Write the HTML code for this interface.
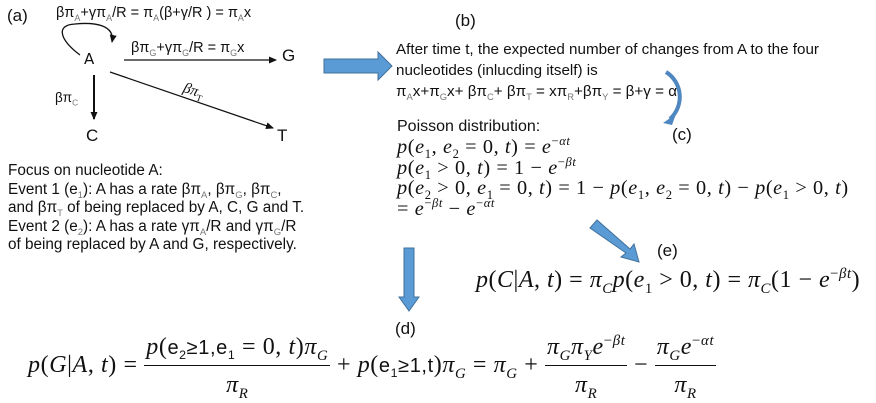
<!DOCTYPE html>
<html><head><meta charset="utf-8"><style>
body{margin:0;width:876px;height:403px;background:#fff;position:relative;overflow:hidden;font-family:"Liberation Sans",sans-serif;color:#111}
.a{position:absolute;white-space:nowrap}
.s{font-size:13.5px}
.m{font-family:"Liberation Serif",serif}
.m i{font-style:italic}
sub,sup{line-height:0;font-size:0.62em}
.s sub{color:#777}
.f{display:inline-block;vertical-align:middle;text-align:center}
.f .n{display:block;border-bottom:1px solid #111;padding:0 2px 4px}
.f .d{display:block;padding-top:6px}
</style></head><body>
<svg width="876" height="403" style="position:absolute;left:0;top:0">
<defs><marker id="ah" markerWidth="8" markerHeight="8" refX="7" refY="4" orient="auto" markerUnits="userSpaceOnUse"><path d="M0,0.5 L8,4 L0,7.5z" fill="#111"/></marker></defs>
<path d="M80,55 C60,40 55,25 75,24 C95,22 115,25 112,42" fill="none" stroke="#111" stroke-width="1.3" marker-end="url(#ah)"/>
<line x1="124" y1="60" x2="276" y2="60" stroke="#111" stroke-width="1.3" marker-end="url(#ah)"/>
<line x1="94" y1="75" x2="94" y2="119" stroke="#111" stroke-width="2" marker-end="url(#ah)"/>
<line x1="110" y1="72" x2="273" y2="128" stroke="#111" stroke-width="1.2" marker-end="url(#ah)"/>
<path d="M324,59 H378 V52 L392,66 L378,80 V73 H324 Z" fill="#5b9bd5" stroke="#41719c"/>
<path d="M666,72 C682,82 685,105 670,119" fill="none" stroke="#4f87c0" stroke-width="4"/>
<path d="M663,123 L676,114 L672,125 Z" fill="#4f87c0"/>
<path d="M590,228 L597,220 L630,249 L634,244 L639,262 L621,257 L626,253 Z" fill="#5b9bd5" stroke="#41719c"/>
<path d="M404,248 H414 V297 H419 L409,311 L399,297 H404 Z" fill="#5b9bd5" stroke="#41719c"/>
</svg>
<div class="a" style="left:7px;top:6px;font-size:17px">(a)</div>
<div class="a s" style="left:56px;top:5px;font-size:14.5px">βπ<sub>A</sub>+γπ<sub>A</sub>/R = π<sub>A</sub>(β+γ/R ) = π<sub>A</sub>x</div>
<div class="a" style="left:84px;top:50px;font-size:15px;font-family:'DejaVu Sans',sans-serif">A</div>
<div class="a s" style="left:131px;top:40px;font-size:14.5px">βπ<sub>G</sub>+γπ<sub>G</sub>/R = π<sub>G</sub>x</div>
<div class="a" style="left:282px;top:46px;font-size:17px">G</div>
<div class="a s" style="left:55px;top:90px">βπ<sub>C</sub></div>
<div class="a" style="left:86px;top:126px;font-size:17px">C</div>
<div class="a m" style="left:183px;top:83px;font-size:15px;transform:rotate(18deg)"><i>βπ</i><sub>T</sub></div>
<div class="a" style="left:277px;top:126px;font-size:17px">T</div>
<div class="a s" style="left:8px;top:162px;line-height:18.5px;font-size:15.3px">Focus on nucleotide A:<br>Event 1 (e<sub>1</sub>): A has a rate βπ<sub>A</sub>, βπ<sub>G</sub>, βπ<sub>C</sub>,<br>and βπ<sub>T</sub> of being replaced by A, C, G and T.<br>Event 2 (e<sub>2</sub>): A has a rate γπ<sub>A</sub>/R and γπ<sub>G</sub>/R<br>of being replaced by A and G, respectively.</div>
<div class="a" style="left:455px;top:11px;font-size:17px">(b)</div>
<div class="a s" style="left:396px;top:39px;line-height:21px;font-size:15.2px">After time t, the expected number of changes from A to the four<br>nucleotides (inlucding itself) is<br>π<sub>A</sub>x+π<sub>G</sub>x+ βπ<sub>C</sub>+ βπ<sub>T</sub> = xπ<sub>R</sub>+βπ<sub>Y</sub> = β+γ = α</div>
<div class="a" style="left:672px;top:125px;font-size:17px">(c)</div>
<div class="a" style="left:397px;top:118px;font-size:16px">Poisson distribution:</div>
<div class="a m" style="left:397px;top:137px;font-size:20.3px;line-height:20.5px;letter-spacing:0.6px"><i>p</i>(<i>e</i><sub>1</sub>, <i>e</i><sub>2</sub> = 0, <i>t</i>) = <i>e</i><sup>−<i>αt</i></sup><br><i>p</i>(<i>e</i><sub>1</sub> &gt; 0, <i>t</i>) = 1 − <i>e</i><sup>−<i>βt</i></sup><br><i>p</i>(<i>e</i><sub>2</sub> &gt; 0, <i>e</i><sub>1</sub> = 0, <i>t</i>) = 1 − <i>p</i>(<i>e</i><sub>1</sub>, <i>e</i><sub>2</sub> = 0, <i>t</i>) − <i>p</i>(<i>e</i><sub>1</sub> &gt; 0, <i>t</i>)<br>= <i>e</i><sup>−<i>βt</i></sup> − <i>e</i><sup>−<i>αt</i></sup></div>
<div class="a" style="left:657px;top:241px;font-size:17px">(e)</div>
<div class="a m" style="left:476px;top:267px;font-size:24px;letter-spacing:0.5px"><i>p</i>(<i>C</i>|<i>A</i>, <i>t</i>) = <i>π</i><sub><i>C</i></sub><i>p</i>(<i>e</i><sub>1</sub> &gt; 0, <i>t</i>) = <i>π</i><sub><i>C</i></sub>(1 − <i>e</i><sup>−<i>βt</i></sup>)</div>
<div class="a" style="left:395px;top:319px;font-size:17px">(d)</div>
<div class="a m" style="left:28px;top:334px;font-size:24px;letter-spacing:0.6px"><i>p</i>(<i>G</i>|<i>A</i>, <i>t</i>) = <span class="f"><span class="n"><i>p</i>(<span style="font-family:'Liberation Sans';font-size:20px">e<sub>2</sub>≥1,e<sub>1</sub></span> = 0, <i>t</i>)<i>π</i><sub><i>G</i></sub></span><span class="d"><i>π</i><sub><i>R</i></sub></span></span> + <i>p</i>(<span style="font-family:'Liberation Sans';font-size:20px">e<sub>1</sub>≥1,t</span>)<i>π</i><sub><i>G</i></sub> = <i>π</i><sub><i>G</i></sub> + <span class="f"><span class="n"><i>π</i><sub><i>G</i></sub><i>π</i><sub><i>Y</i></sub><i>e</i><sup>−<i>βt</i></sup></span><span class="d"><i>π</i><sub><i>R</i></sub></span></span> − <span class="f"><span class="n"><i>π</i><sub><i>G</i></sub><i>e</i><sup>−<i>αt</i></sup></span><span class="d"><i>π</i><sub><i>R</i></sub></span></span></div>
</body></html>
